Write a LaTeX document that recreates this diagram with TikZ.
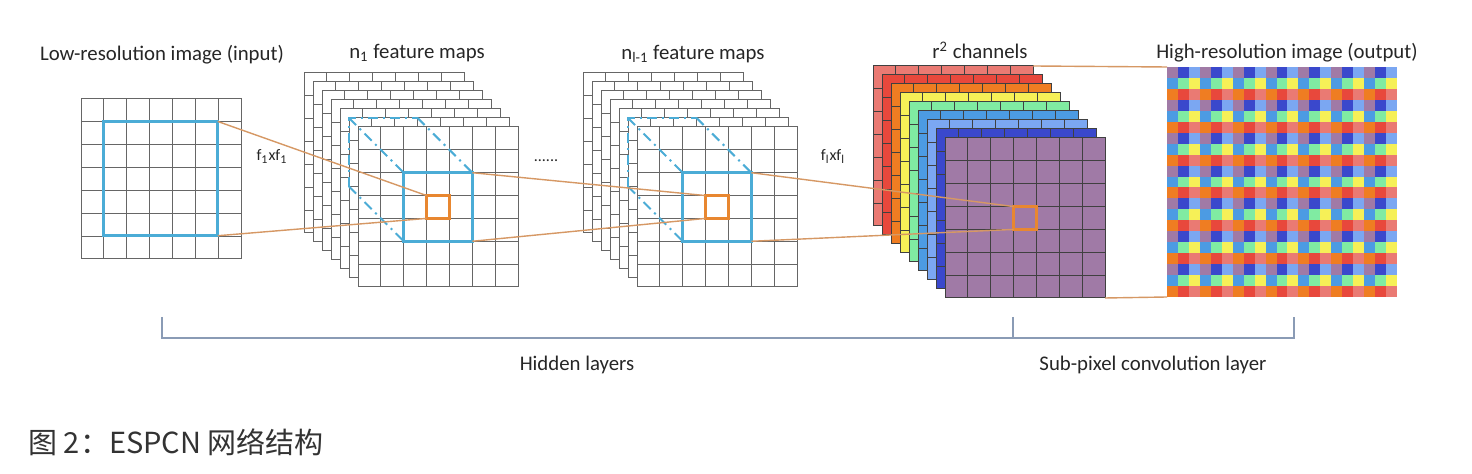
\documentclass[tikz,border=0pt]{standalone}
\usepackage{fontspec}
\setmainfont{Carlito}
\newfontfamily\cjkfont{Noto Sans CJK SC}
\definecolor{winblue}{RGB}{75,172,214}
\definecolor{pxorange}{RGB}{232,135,48}
\definecolor{linkorange}{RGB}{214,152,100}
\definecolor{bracegray}{RGB}{138,155,181}
\definecolor{ch1}{RGB}{234,122,115}
\definecolor{ch2}{RGB}{232,72,60}
\definecolor{ch3}{RGB}{239,125,34}
\definecolor{ch4}{RGB}{246,240,87}
\definecolor{ch5}{RGB}{128,235,162}
\definecolor{ch6}{RGB}{76,155,227}
\definecolor{ch7}{RGB}{123,167,242}
\definecolor{ch8}{RGB}{58,72,204}
\definecolor{ch9}{RGB}{160,122,166}
% one 7x7 map: x, y (top left), fill, grid colour, name
\newcommand{\fmap}[5]{%
  \node[mapframe,fill=#3,draw=#4] (#5) at ({#1+80},{#2+80}) {};
  \foreach \k in {1,...,6}
    \draw[#4] ({#1+\k*160/7},#2) -- ({#1+\k*160/7},{#2+160})
              (#1,{#2+\k*160/7}) -- ({#1+160},{#2+\k*160/7});
}

\begin{document}
\begin{tikzpicture}[x=0.5pt,y=-0.5pt,line width=0.5pt,
 mapframe/.style={minimum size=80pt,inner sep=0pt,outer sep=0pt},
 win/.style={draw=winblue,line width=1.5pt,inner sep=0pt,outer sep=0pt,minimum size=34.29pt},
 px/.style={draw=pxorange,line width=1.5pt,inner sep=0pt,outer sep=0pt,minimum size=11.43pt},
 ghost/.style={inner sep=0pt,outer sep=0pt,minimum size=34.29pt},
 dashwin/.style={winblue,line width=1pt,dash pattern=on 5pt off 2.5pt on 1pt off 2.5pt},
 link/.style={linkorange,line width=0.7pt},
 bracket/.style={bracegray,line width=0.75pt},
 lbl/.style={font=\fontsize{10.4}{12}\selectfont,text=black!85,anchor=base,inner sep=0pt},
 small/.style={font=\fontsize{8}{9}\selectfont,text=black!85,anchor=base,inner sep=0pt}]
\useasboundingbox (0,0) rectangle (1472,474);
\fill[white] (0,0) rectangle (1472,474);

% low-resolution input
\fmap{81}{99}{white}{black!60}{lr}
\node[win,minimum size=57.14pt] (lrwin) at (160.6,178.6) {};

% n_1 feature maps
\foreach \i in {0,...,6}
  \fmap{304+9*\i}{73+9*\i}{white}{black!60}{fa\i}
\node[ghost] (f1ghost) at (383.3,152.3) {};
\node[win] (f1win) at (438,207) {};
\node[px] (f1px) at (438,207) {};
\draw[dashwin] (f1ghost.south west) -- (f1ghost.north west) -- (f1ghost.north east);
\draw[dashwin] (f1ghost.north west) -- (f1win.north west);
\draw[dashwin] (f1ghost.north east) -- (f1win.north east);
\draw[dashwin] (f1ghost.south west) -- (f1win.south west);

% n_{l-1} feature maps
\foreach \i in {0,...,6}
  \fmap{583+9*\i}{73+9*\i}{white}{black!60}{fb\i}
\node[ghost] (flghost) at (662.3,152.3) {};
\node[win] (flwin) at (717,207) {};
\node[px] (flpx) at (717,207) {};
\draw[dashwin] (flghost.south west) -- (flghost.north west) -- (flghost.north east);
\draw[dashwin] (flghost.north west) -- (flwin.north west);
\draw[dashwin] (flghost.north east) -- (flwin.north east);
\draw[dashwin] (flghost.south west) -- (flwin.south west);

% r^2 channels
\foreach \i [evaluate=\i as \c using int(\i+1)] in {0,...,8}
  \fmap{873+9*\i}{66+9*\i}{ch\c}{black!75}{ch\i}
\node[px] (srpx) at (1025,218) {};

% high-resolution output (periodic shuffle)
\node[inner sep=0pt,outer sep=0pt,minimum size=115pt] (hr) at (1282,182) {};
\foreach \r in {0,...,20}
  \foreach \c in {0,...,20} {
    \pgfmathtruncatemacro\chn{9-3*mod(\r,3)-mod(\c,3)}
    \fill[ch\chn] ({1167+\c*230/21},{67+\r*230/21}) rectangle +(230/21,230/21);
  }

% connectors
\draw[link] (lrwin.north east) -- (f1px.north west);
\draw[link] (lrwin.south east) -- (f1px.south west);
\draw[link] (f1win.north east) -- (flpx.north west);
\draw[link] (f1win.south east) -- (flpx.south west);
\draw[link] (flwin.north east) -- (srpx.north west);
\draw[link] (flwin.south east) -- (srpx.south west);
\draw[link] (ch0.north east) -- (hr.north west);
\draw[link] (ch8.south east) -- (hr.south west);

% labels
\node[lbl] (tlr) at (162,60.5) {Low-resolution image (input)};
\node[lbl] (tfa) at (417,59) {n\textsubscript{1} feature maps};
\node[lbl] (tfb) at (693,59.5) {n\textsubscript{l-1} feature maps};
\node[lbl] (tch) at (980,59) {r\textsuperscript{2} channels};
\node[lbl] (thr) at (1287,58.5) {High-resolution image (output)};
\node[small] (k1) at (272,161) {f\textsubscript{1}xf\textsubscript{1}};
\node[small] (kl) at (833,161) {f\textsubscript{l}xf\textsubscript{l}};
\node[small] (dots) at (546,162) {......};

% brackets
\coordinate (bl) at (162,317);
\coordinate (bm) at (1013,317);
\coordinate (br) at (1294,317);
\draw[bracket] (bl) -- ++(0,21) -| (br);
\draw[bracket] (bm) -- ++(0,21);
\node[lbl] (thid) at (577,371) {Hidden layers};
\node[lbl] (tsub) at (1153,371) {Sub-pixel convolution layer};

\node[anchor=base west,inner sep=0pt,text=black!80,font=\cjkfont\fontsize{14.5}{17}\selectfont] (cap) at (28,454) {图 2：ESPCN 网络结构};
\end{tikzpicture}
\end{document}
